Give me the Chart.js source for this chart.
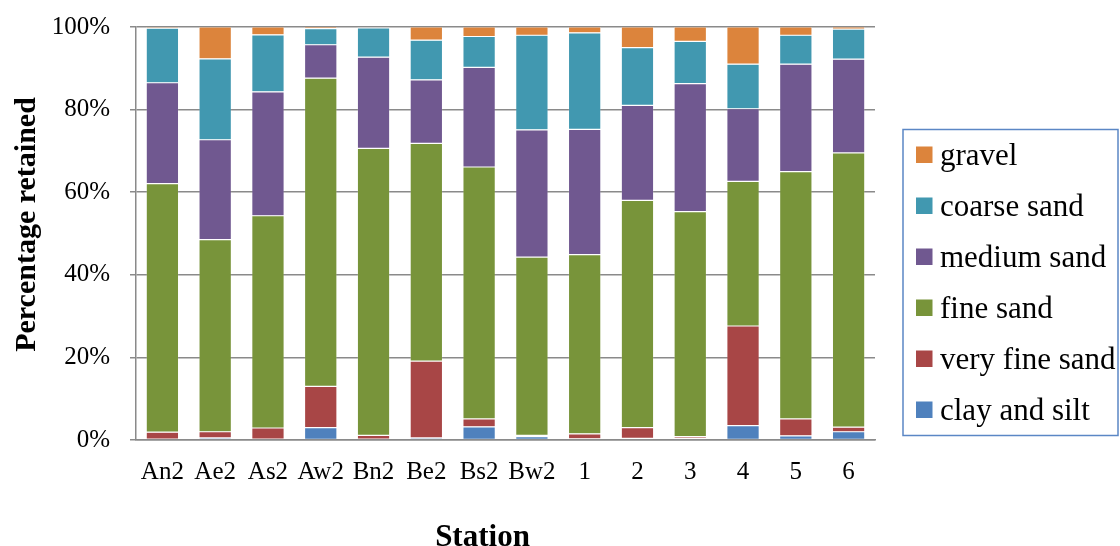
<!DOCTYPE html>
<html>
<head>
<meta charset="utf-8">
<script src="https://cdn.jsdelivr.net/npm/chart.js@4/dist/chart.umd.min.js"></script>
<style>
  html, body { margin: 0; padding: 0; background: #fff; }
  canvas { display: block; }
</style>
</head>
<body>
<canvas id="c" width="1120" height="546"></canvas>
<script>
// Sampling stations
const stations = ['An2', 'Ae2', 'As2', 'Aw2', 'Bn2', 'Be2', 'Bs2', 'Bw2', '1', '2', '3', '4', '5', '6'];

// Percentage retained per grain-size class (bottom of stack first)
const clayAndSilt  = [0.2, 0.5, 0.2, 3.0, 0.2, 0.5, 3.2, 0.8, 0.3, 0.4, 0.4, 3.5, 1.0, 2.0];
const veryFineSand = [1.7, 1.5, 2.7, 10.0, 0.9, 18.6, 1.9, 0.3, 1.2, 2.6, 0.4, 24.1, 4.1, 1.1];
const fineSand     = [60.2, 46.5, 51.4, 74.6, 69.5, 52.7, 61.0, 43.2, 43.4, 55.0, 54.5, 35.0, 59.9, 66.4];
const mediumSand   = [24.4, 24.2, 30.0, 8.1, 22.1, 15.4, 24.1, 30.8, 30.3, 23.0, 31.0, 17.6, 26.0, 22.7];
const coarseSand   = [13.2, 19.6, 13.8, 3.9, 7.1, 9.6, 7.5, 22.9, 23.4, 14.0, 10.2, 10.8, 7.0, 7.3];
const gravel       = [0.3, 7.7, 1.9, 0.4, 0.2, 3.2, 2.3, 2.0, 1.4, 5.0, 3.5, 9.0, 2.0, 0.5];

// Y-axis ticks
const yTicks = [0, 20, 40, 60, 80, 100];

const SERIF = "'Liberation Serif', 'Times New Roman', serif";
const GRID = '#8a8a8a';

function series(label, data, color) {
  return {
    label, data,
    backgroundColor: color,
    borderColor: 'rgba(255,255,255,0.3)',
    borderWidth: 0.6,
    borderSkipped: false,
    barPercentage: 0.615,
    categoryPercentage: 1.0
  };
}

const datasets = [
  series('clay and silt', clayAndSilt, '#4f81bd'),
  series('very fine sand', veryFineSand, '#a84646'),
  series('fine sand', fineSand, '#78943a'),
  series('medium sand', mediumSand, '#705890'),
  series('coarse sand', coarseSand, '#4198b0'),
  series('gravel', gravel, '#dc843c')
];

// Framed legend on the right plus the two axis titles
const decorations = {
  id: 'decorations',
  afterDraw(chart) {
    const ctx = chart.ctx;
    ctx.save();

    // legend frame
    ctx.strokeStyle = '#5b87c5';
    ctx.lineWidth = 1.5;
    ctx.strokeRect(903, 129.5, 215, 306);

    const items = chart.data.datasets.slice().reverse();
    ctx.font = '31px ' + SERIF;
    ctx.textAlign = 'left';
    ctx.textBaseline = 'alphabetic';
    items.forEach((ds, i) => {
      const cy = 154.5 + i * 51;
      ctx.fillStyle = ds.backgroundColor;
      ctx.fillRect(916, cy - 8, 16.5, 16.5);
      ctx.fillStyle = '#000';
      ctx.fillText(ds.label, 940, cy + 10.5);
    });

    // axis titles
    ctx.fillStyle = '#000';
    ctx.font = 'bold 30px ' + SERIF;
    ctx.textAlign = 'center';
    ctx.save();
    ctx.translate(35, 224.5);
    ctx.rotate(-Math.PI / 2);
    ctx.fillText('Percentage retained', 0, 0);
    ctx.restore();

    ctx.font = 'bold 31px ' + SERIF;
    ctx.fillText('Station', 482.5, 545.5);

    ctx.restore();
  }
};

new Chart(document.getElementById('c'), {
  type: 'bar',
  data: { labels: stations, datasets },
  plugins: [decorations],
  options: {
    responsive: false,
    animation: false,
    events: [],
    layout: { padding: { top: 27, right: 245, bottom: 0, left: 0 } },
    plugins: {
      legend: { display: false },
      tooltip: { enabled: false }
    },
    scales: {
      x: {
        stacked: true,
        grid: { display: true, color: 'transparent', drawTicks: false },
        border: { display: true, color: GRID, width: 1.5 },
        ticks: {
          color: '#000',
          font: { family: SERIF, size: 25 },
          padding: 17,
          maxRotation: 0,
          autoSkip: false
        },
        afterFit(scale) { scale.height = 106; }
      },
      y: {
        stacked: true,
        min: 0,
        max: 100,
        afterBuildTicks(scale) { scale.ticks = yTicks.map(v => ({ value: v })); },
        grid: { color: GRID, lineWidth: 1.5, tickLength: 6 },
        border: { display: true, color: GRID, width: 1.5 },
        ticks: {
          color: '#000',
          font: { family: SERIF, size: 25 },
          padding: 20,
          callback: v => v + '%'
        },
        afterFit(scale) {
          scale.width = 136;
          scale.paddingTop = 0;
          scale.paddingBottom = 0;
        }
      }
    }
  }
});
</script>
</body>
</html>
